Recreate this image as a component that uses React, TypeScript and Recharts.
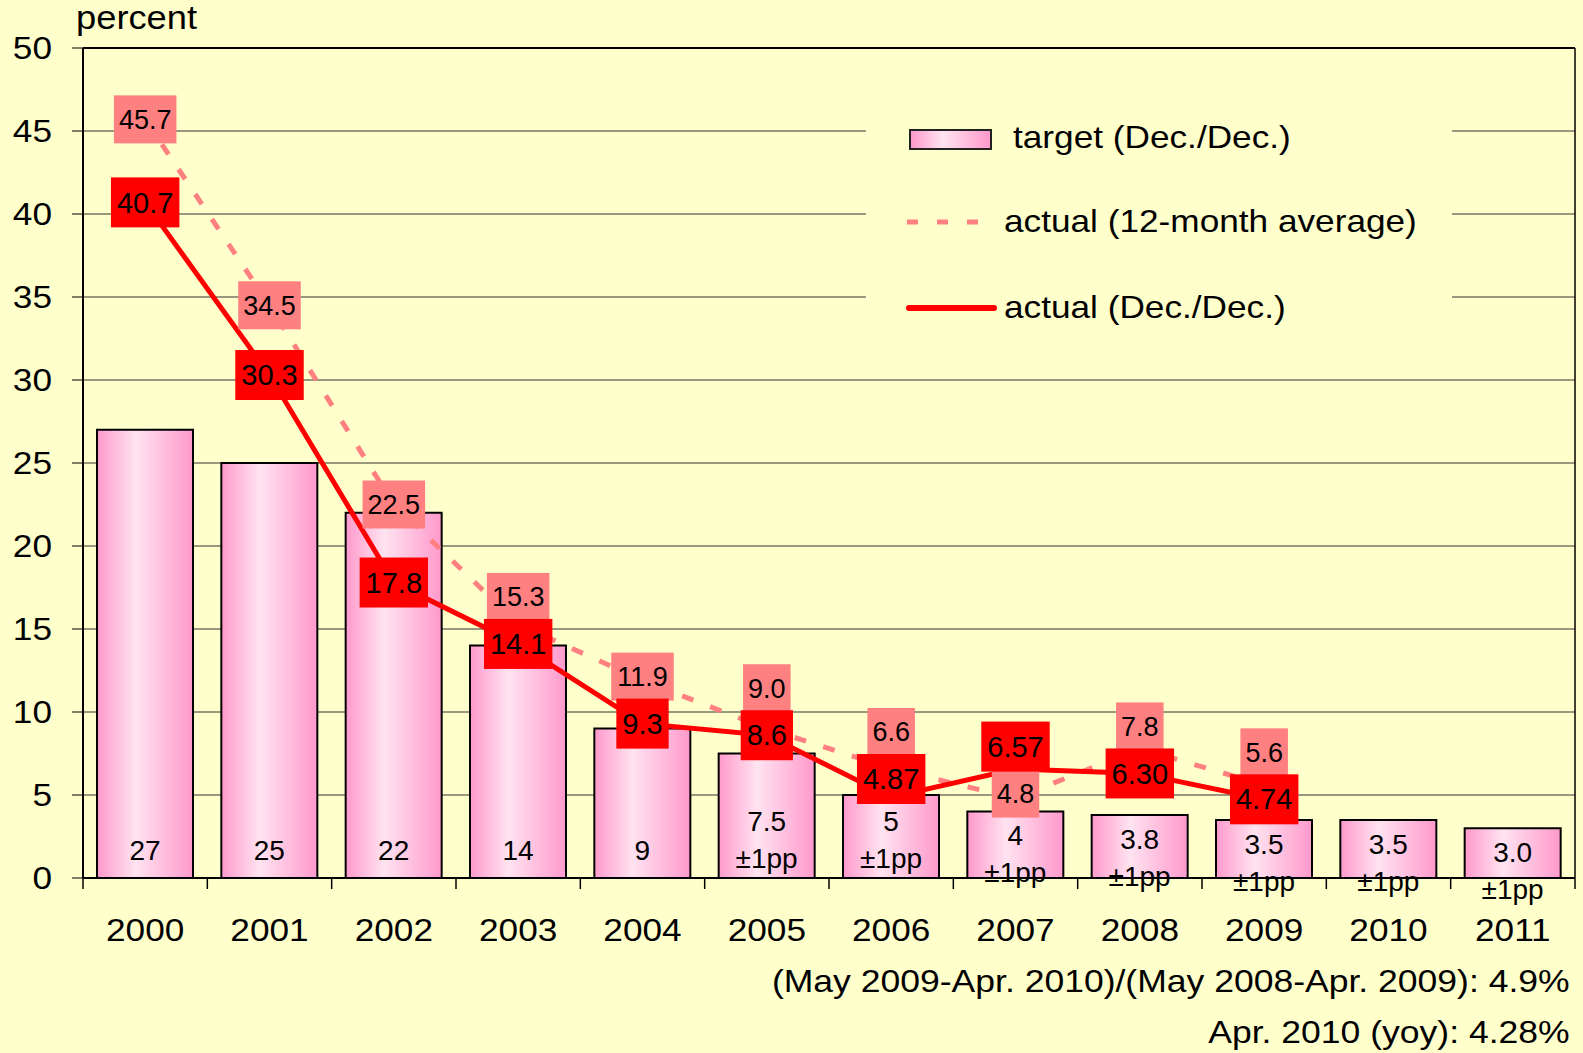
import {
  ComposedChart,
  Bar,
  Line,
  XAxis,
  YAxis,
  CartesianGrid,
  Legend,
  LabelList,
  ReferenceLine,
} from 'recharts';

const years = ['2000', '2001', '2002', '2003', '2004', '2005', '2006', '2007', '2008', '2009', '2010', '2011'];
const targetValues = [27, 25, 22, 14, 9, 7.5, 5, 4, 3.8, 3.5, 3.5, 3.0];
const targetLabels = ['27', '25', '22', '14', '9', '7.5', '5', '4', '3.8', '3.5', '3.5', '3.0'];
const targetBands = ['', '', '', '', '', '±1pp', '±1pp', '±1pp', '±1pp', '±1pp', '±1pp', '±1pp'];
const avgValues = [45.7, 34.5, 22.5, 15.3, 11.9, 9.0, 6.6, 4.8, 7.8, 5.6, null, null];
const avgLabels = ['45.7', '34.5', '22.5', '15.3', '11.9', '9.0', '6.6', '4.8', '7.8', '5.6', '', ''];
const decValues = [40.7, 30.3, 17.8, 14.1, 9.3, 8.6, 4.87, 6.57, 6.3, 4.74, null, null];
const decLabels = ['40.7', '30.3', '17.8', '14.1', '9.3', '8.6', '4.87', '6.57', '6.30', '4.74', '', ''];
const yTicks = [0, 5, 10, 15, 20, 25, 30, 35, 40, 45, 50];
const legendNames = ['target (Dec./Dec.)', 'actual (12-month average)', 'actual (Dec./Dec.)'];
const notes = ['(May 2009-Apr. 2010)/(May 2008-Apr. 2009): 4.9%', 'Apr. 2010 (yoy): 4.28%'];

const data = years.map((year, i) => ({
  year,
  target: targetValues[i],
  avg: avgValues[i],
  dec: decValues[i],
}));

const BG = '#FFFFCC';
const FONT = '"Liberation Sans", Arial, Helvetica, sans-serif';
const PLOT_LEFT = 83;
const PLOT_RIGHT = 1575;
const PLOT_TOP = 48;
const PLOT_BOTTOM = 878;
const BAND = (PLOT_RIGHT - PLOT_LEFT) / years.length;
const PX_PER_UNIT = (PLOT_BOTTOM - PLOT_TOP) / 50;
const LABEL_SEP = 47; // min vertical distance between the two line labels
const STRETCH = 1.1; // source text is a bit wider than Arial

// rough text width for Arial-like digits
const textWidth = (s: string, size: number) =>
  s.split('').reduce((w, c) => w + (c === '.' ? 0.278 : 0.556), 0) * size;

// centre of the first text line inside a bar, given bar top and base
const barTextY = (top: number, base: number, twoLines: boolean) =>
  twoLines ? Math.max(top + 24, base - 57) : base - 28;

const BarLabel = (props: any) => {
  const { x, y, width, height, index } = props;
  const cx = x + width / 2;
  const base = y + height;
  const band = targetBands[index];
  const first = barTextY(y, base, !!band);
  return (
    <g>
      <text x={cx} y={first} dy="0.35em" textAnchor="middle" fontSize={28} fill="#000">
        {targetLabels[index]}
      </text>
      {band && (
        <text x={cx} y={first + 37} dy="0.35em" textAnchor="middle" fontSize={28} fill="#000">
          {band}
        </text>
      )}
    </g>
  );
};

// vertical shift of a line label: the lower label stays clear of the bar text,
// the upper one is pushed up to stay clear of the lower one
const labelShift = (index: number, own: number | null, other: number | null) => {
  if (own == null) return 0;
  const yOwn = -own * PX_PER_UNIT;
  if (other == null) return 0;
  const yOther = -other * PX_PER_UNIT;
  const barTop = -targetValues[index] * PX_PER_UNIT;
  const barTextTop = barTextY(barTop, 0, !!targetBands[index]) - 15;
  const lower = Math.min(Math.max(yOwn, yOther), barTextTop - 27);
  if (yOwn >= yOther) return lower - yOwn;
  const upper = Math.min(yOwn, lower - LABEL_SEP);
  return upper - yOwn;
};

const boxLabel = (
  labels: string[],
  own: (number | null)[],
  other: (number | null)[],
  fill: string,
  size: number,
  padX: number,
  h: number,
) =>
  (props: any) => {
    const { x, y, index, value } = props;
    if (value == null || x == null || y == null) return null;
    const txt = labels[index];
    const w = textWidth(txt, size) + padX * 2;
    const cy = y + labelShift(index, own[index], other[index]);
    return (
      <g>
        <rect x={x - w / 2} y={cy - h / 2} width={w} height={h} fill={fill} />
        <text x={x} y={cy} dy="0.35em" textAnchor="middle" fontSize={size} fill="#000">
          {txt}
        </text>
      </g>
    );
  };

const AvgLabel = boxLabel(avgLabels, avgValues, decValues, '#FF8080', 27, 5, 48);
const DecLabel = boxLabel(decLabels, decValues, avgValues, '#FF0000', 29, 6, 50);

const XTick = (props: any) => {
  const { x, y, payload, index } = props;
  const half = BAND / 2;
  return (
    <g>
      <line x1={x - half} x2={x - half} y1={y} y2={y + 11} stroke="#000" strokeWidth={1.5} />
      {index === years.length - 1 && (
        <line x1={x + half} x2={x + half} y1={y} y2={y + 11} stroke="#000" strokeWidth={1.5} />
      )}
      <text
        transform={`translate(${x} ${y + 52}) scale(${STRETCH} 1)`}
        dy="0.35em"
        textAnchor="middle"
        fontSize={32}
        fill="#000"
      >
        {payload.value}
      </text>
    </g>
  );
};

const YTick = (props: any) => {
  const { x, y, payload } = props;
  return (
    <text
      transform={`translate(${x} ${y}) scale(${STRETCH} 1)`}
      dy="0.35em"
      textAnchor="end"
      fontSize={32}
      fill="#000"
    >
      {payload.value}
    </text>
  );
};

const legendText = (left: number, top: number, txt: string) => (
  <div
    style={{
      position: 'absolute',
      left,
      top,
      fontSize: 32,
      lineHeight: '40px',
      whiteSpace: 'nowrap',
      transform: `scaleX(${STRETCH})`,
      transformOrigin: 'left center',
    }}
  >
    {txt}
  </div>
);

const LegendBox = () => (
  <div style={{ position: 'relative', width: 586, height: 235, background: BG, fontFamily: FONT }}>
    <div
      style={{
        position: 'absolute',
        left: 43,
        top: 29,
        width: 79,
        height: 17,
        border: '2px solid #222',
        background: 'linear-gradient(to right, #FF99CC, #FFE3F0 40%, #FF99CC)',
      }}
    />
    {legendText(147, 17, legendNames[0])}
    <svg style={{ position: 'absolute', left: 41, top: 112 }} width={90} height={20}>
      <line x1={0} x2={90} y1={10} y2={10} stroke="#FF8080" strokeWidth={5} strokeDasharray="11 19" />
    </svg>
    {legendText(138, 101, legendNames[1])}
    <svg style={{ position: 'absolute', left: 38, top: 198 }} width={95} height={20}>
      <line x1={5} x2={90} y1={10} y2={10} stroke="#FF0000" strokeWidth={6} strokeLinecap="round" />
    </svg>
    {legendText(138, 187, legendNames[2])}
  </div>
);

export default function App() {
  return (
    <div
      style={{
        position: 'absolute',
        left: 0,
        top: 0,
        width: 1583,
        height: 1053,
        background: BG,
        fontFamily: FONT,
        color: '#000',
      }}
    >
      <ComposedChart
        width={1583}
        height={1053}
        data={data}
        margin={{ top: PLOT_TOP, right: 7, bottom: 75, left: 0 }}
      >
        <defs>
          <linearGradient id="barGrad" x1="0" y1="0" x2="1" y2="0">
            <stop offset="0%" stopColor="#FF99CC" />
            <stop offset="40%" stopColor="#FFE3F0" />
            <stop offset="100%" stopColor="#FF99CC" />
          </linearGradient>
        </defs>
        <CartesianGrid vertical={false} stroke="#333" strokeWidth={1} />
        <XAxis
          dataKey="year"
          interval={0}
          height={100}
          tickSize={0}
          tickMargin={0}
          tickLine={false}
          tick={<XTick />}
          axisLine={{ stroke: '#000', strokeWidth: 2 }}
        />
        <YAxis
          domain={[0, 50]}
          ticks={yTicks}
          interval={0}
          width={PLOT_LEFT}
          tickSize={11}
          tickMargin={20}
          tick={<YTick />}
          tickLine={{ stroke: '#000' }}
          axisLine={{ stroke: '#000', strokeWidth: 2 }}
        />
        <YAxis
          yAxisId="right"
          orientation="right"
          domain={[0, 50]}
          width={1}
          tick={false}
          tickLine={false}
          axisLine={{ stroke: '#000', strokeWidth: 1.5 }}
        />
        <ReferenceLine y={50} stroke="#000" strokeWidth={2} />
        <Legend
          layout="vertical"
          align="center"
          verticalAlign="middle"
          content={<LegendBox />}
          wrapperStyle={{ left: 866, top: 100, width: 586, height: 235 }}
        />
        <Bar
          dataKey="target"
          name={legendNames[0]}
          barSize={96}
          fill="url(#barGrad)"
          stroke="#000"
          strokeWidth={2}
          isAnimationActive={false}
        >
          <LabelList dataKey="target" content={<BarLabel />} />
        </Bar>
        <Line
          dataKey="avg"
          name={legendNames[1]}
          type="linear"
          stroke="#FF8080"
          strokeWidth={5}
          strokeDasharray="12 18"
          dot={false}
          activeDot={false}
          isAnimationActive={false}
        >
          <LabelList dataKey="avg" content={<AvgLabel />} />
        </Line>
        <Line
          dataKey="dec"
          name={legendNames[2]}
          type="linear"
          stroke="#FF0000"
          strokeWidth={5}
          dot={false}
          activeDot={false}
          isAnimationActive={false}
        >
          <LabelList dataKey="dec" content={<DecLabel />} />
        </Line>
      </ComposedChart>
      <div
        style={{
          position: 'absolute',
          left: 76,
          top: 0,
          fontSize: 33,
          lineHeight: '36px',
          transform: `scaleX(${STRETCH})`,
          transformOrigin: 'left center',
        }}
      >
        percent
      </div>
      <div
        style={{
          position: 'absolute',
          right: 13,
          top: 956,
          fontSize: 32,
          lineHeight: '51px',
          textAlign: 'right',
          whiteSpace: 'nowrap',
          transform: 'scaleX(1.11)',
          transformOrigin: 'right center',
        }}
      >
        {notes.map((n) => (
          <div key={n}>{n}</div>
        ))}
      </div>
    </div>
  );
}
